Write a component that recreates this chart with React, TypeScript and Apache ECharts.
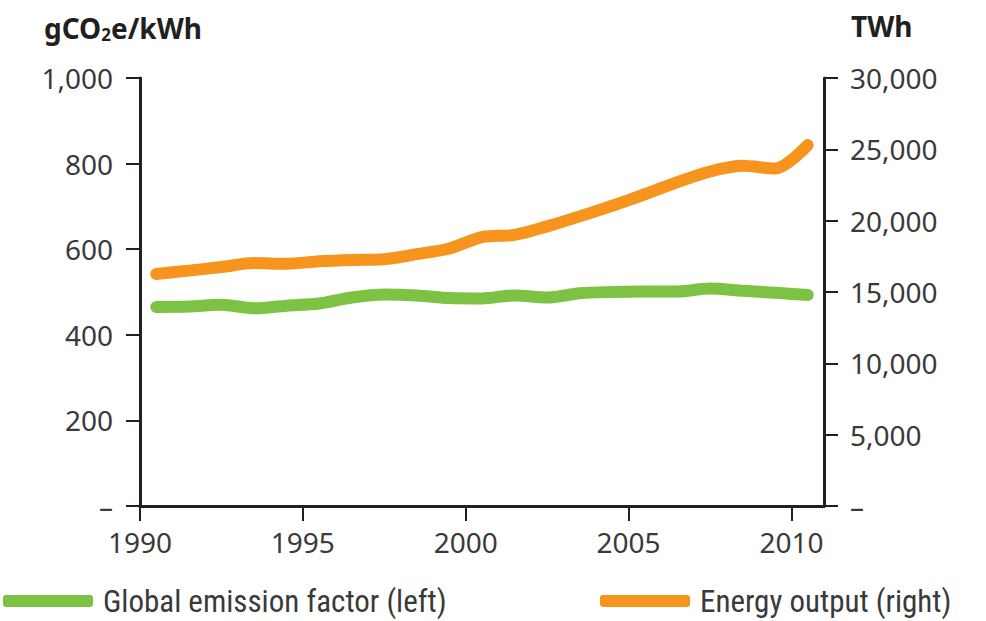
import React, { useEffect, useRef } from "react";
import * as echarts from "echarts";

const years = [1990, 1991, 1992, 1993, 1994, 1995, 1996, 1997, 1998, 1999, 2000, 2001, 2002, 2003, 2004, 2005, 2006, 2007, 2008, 2009, 2010];
const emissionFactor = [465, 466, 470, 462, 468, 473, 487, 494, 492, 486, 485, 492, 487, 497, 500, 501, 501, 508, 503, 498, 493];
const energyOutput = [16260, 16500, 16750, 17030, 16980, 17150, 17250, 17300, 17650, 18050, 18850, 19000, 19600, 20300, 21050, 21850, 22700, 23450, 23850, 23650, 25300];
const xTicks = [1990, 1995, 2000, 2005, 2010];
const seriesNames = ["Global emission factor (left)", "Energy output (right)"];

const GREEN = "#7dc242";
const ORANGE = "#f7941d";
const AXIS = "#231f20";
const LABEL = "#3a3a3a";
const FONT = "'Noto Sans', 'Open Sans', sans-serif";
const LEGEND_FONT = "'Liberation Sans Narrow', 'Roboto Condensed', 'DejaVu Sans Condensed', 'Noto Sans', sans-serif";

const fmt = (v: number) => (v === 0 ? "–" : v.toLocaleString("en-US"));

export default function App() {
  const ref = useRef<HTMLDivElement>(null);
  useEffect(() => {
    document.body.style.margin = "0";
    if (!ref.current) return;
    const chart = echarts.init(ref.current, undefined, { renderer: "svg" });
    const legendBase = {
      top: 585,
      padding: 0,
      itemWidth: 90,
      itemHeight: 12,
      itemGap: 0,
      textStyle: { fontFamily: LEGEND_FONT, fontSize: 31, lineHeight: 32, color: LABEL, padding: [0, 0, 0, 5] },
    };
    chart.setOption({
      animation: false,
      backgroundColor: "#ffffff",
      title: [
        {
          text: "gCO{sub|2}e/kWh",
          left: 44,
          top: 12,
          padding: 0,
          textStyle: {
            fontFamily: FONT,
            fontSize: 28,
            fontWeight: "bold",
            color: AXIS,
            rich: {
              sub: { fontFamily: FONT, fontSize: 17, fontWeight: "bold", color: AXIS, verticalAlign: "bottom", padding: [14, 0, 0, 0] },
            },
          },
        },
        {
          text: "TWh",
          left: 851,
          top: 12,
          padding: 0,
          textStyle: { fontFamily: FONT, fontSize: 28, fontWeight: "bold", color: AXIS },
        },
      ],
      legend: [
        { ...legendBase, data: [{ name: seriesNames[0], icon: "roundRect" }], left: 3 },
        { ...legendBase, data: [{ name: seriesNames[1], icon: "roundRect" }], left: 600 },
      ],
      grid: { left: 140, right: 162, top: 78, bottom: 115, containLabel: false },
      xAxis: {
        type: "value",
        min: 1990,
        max: 2011,
        interval: 5,
        axisLine: { show: true, lineStyle: { color: AXIS, width: 3 } },
        axisTick: { show: true, length: 15, lineStyle: { color: AXIS, width: 2 }, customValues: xTicks },
        axisLabel: { fontFamily: FONT, fontSize: 28, color: LABEL, margin: 22, customValues: xTicks, formatter: (v: number) => String(v) },
        splitLine: { show: false },
      },
      yAxis: [
        {
          type: "value",
          min: 0,
          max: 1000,
          interval: 200,
          position: "left",
          axisLine: { show: true, lineStyle: { color: AXIS, width: 3 } },
          axisTick: { show: true, length: 14, lineStyle: { color: AXIS, width: 2 } },
          axisLabel: { fontFamily: FONT, fontSize: 28, color: LABEL, margin: 27, formatter: fmt },
          splitLine: { show: false },
        },
        {
          type: "value",
          min: 0,
          max: 30000,
          interval: 5000,
          position: "right",
          axisLine: { show: true, lineStyle: { color: AXIS, width: 3 } },
          axisTick: { show: true, length: 14, lineStyle: { color: AXIS, width: 2 } },
          axisLabel: { fontFamily: FONT, fontSize: 28, color: LABEL, margin: 26, formatter: fmt },
          splitLine: { show: false },
        },
      ],
      series: [
        {
          name: seriesNames[0],
          type: "line",
          yAxisIndex: 0,
          data: years.map((y, i) => [y + 0.5, emissionFactor[i]]),
          showSymbol: false,
          symbol: "none",
          smooth: 0.3,
          color: GREEN,
          itemStyle: { color: GREEN },
          lineStyle: { color: GREEN, width: 12, cap: "round", join: "round" },
        },
        {
          name: seriesNames[1],
          type: "line",
          yAxisIndex: 1,
          data: years.map((y, i) => [y + 0.5, energyOutput[i]]),
          showSymbol: false,
          symbol: "none",
          smooth: 0.3,
          color: ORANGE,
          itemStyle: { color: ORANGE },
          lineStyle: { color: ORANGE, width: 12, cap: "round", join: "round" },
        },
      ],
    });
    return () => chart.dispose();
  }, []);
  return <div ref={ref} style={{ width: 986, height: 621 }} />;
}
